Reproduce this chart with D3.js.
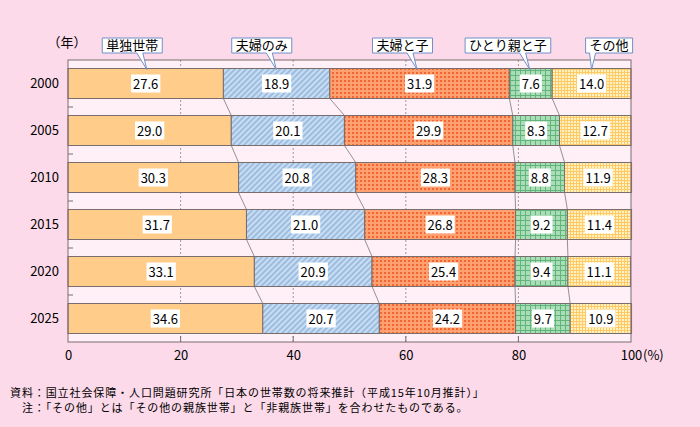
<!DOCTYPE html>
<html><head><meta charset="utf-8">
<script src="https://cdn.jsdelivr.net/npm/d3@7"></script>
<style>
html,body{margin:0;padding:0;background:#FCDAEA;}
svg{display:block;font-family:"Noto Sans CJK JP","DejaVu Sans",sans-serif;}
</style></head><body>
<script>
const years = ["2000","2005","2010","2015","2020","2025"];
const seriesNames = ["単独世帯","夫婦のみ","夫婦と子","ひとり親と子","その他"];
const single = [27.6, 29.0, 30.3, 31.7, 33.1, 34.6];
const couple = [18.9, 20.1, 20.8, 21.0, 20.9, 20.7];
const coupleChild = [31.9, 29.9, 28.3, 26.8, 25.4, 24.2];
const singleParent = [7.6, 8.3, 8.8, 9.2, 9.4, 9.7];
const other = [14.0, 12.7, 11.9, 11.4, 11.1, 10.9];
const xTicks = [0, 20, 40, 60, 80, 100];
const calloutX = [14, 37, 62, 82, 93]; // callout tip positions (% along axis)
const notes = [
  "資料：国立社会保障・人口問題研究所「日本の世帯数の将来推計（平成15年10月推計）」",
  "　注：「その他」とは「その他の親族世帯」と「非親族世帯」を合わせたものである。"
];

const W = 700, H = 427;
const m = {left: 68, right: 69, top: 60, bottom: 85};
const FONT = "'Noto Sans CJK JP','DejaVu Sans',sans-serif";
const svg = d3.select("body").append("svg").attr("width", W).attr("height", H);
const defs = svg.append("defs");

// patterns
const p1 = defs.append("pattern").attr("id","pBlue").attr("width",4).attr("height",4)
  .attr("patternUnits","userSpaceOnUse").attr("patternTransform","rotate(45)");
p1.append("rect").attr("width",4).attr("height",4).attr("fill","#9DBDE0");
p1.append("rect").attr("width",2).attr("height",4).attr("fill","#C9DDF2");

const p2 = defs.append("pattern").attr("id","pOrange").attr("width",4).attr("height",4)
  .attr("patternUnits","userSpaceOnUse");
p2.append("rect").attr("width",4).attr("height",4).attr("fill","#FFA070");
p2.append("rect").attr("x",0).attr("y",0).attr("width",2).attr("height",2).attr("fill","#F26634");

const p3 = defs.append("pattern").attr("id","pGreen").attr("width",5).attr("height",5)
  .attr("patternUnits","userSpaceOnUse");
p3.append("rect").attr("width",5).attr("height",5).attr("fill","#A8DDB6");
p3.append("rect").attr("width",5).attr("height",1).attr("fill","#62B47C");
p3.append("rect").attr("width",1).attr("height",5).attr("fill","#62B47C");

const p4 = defs.append("pattern").attr("id","pYellow").attr("width",3).attr("height",3)
  .attr("patternUnits","userSpaceOnUse");
p4.append("rect").attr("width",3).attr("height",3).attr("fill","#FFF2C0");
p4.append("rect").attr("width",3).attr("height",1).attr("fill","#FFC968");
p4.append("rect").attr("width",1).attr("height",3).attr("fill","#FFC968");

const fills = ["#FFCC8A","url(#pBlue)","url(#pOrange)","url(#pGreen)","url(#pYellow)"];

const x = d3.scaleLinear().domain([0,100]).range([m.left, W - m.right]);
const y = d3.scaleBand().domain(years).range([m.top, H - m.bottom]).paddingInner(17/47).paddingOuter(8.5/47);

// plot background
svg.append("rect").attr("x", x(0)).attr("y", m.top).attr("width", x(100)-x(0)).attr("height", H-m.bottom-m.top)
  .attr("fill","#FEF0F6");

// gridlines
svg.append("g").selectAll("line").data(xTicks.filter(d=>d>0 && d<100)).join("line")
  .attr("x1", d=>x(d)).attr("x2", d=>x(d)).attr("y1", m.top).attr("y2", H-m.bottom)
  .attr("stroke","#8a8080").attr("stroke-width",0.8).attr("stroke-dasharray","2,2");

// stack data
const table = years.map((yr,i)=>({year:yr, v:[single[i],couple[i],coupleChild[i],singleParent[i],other[i]]}));
table.forEach(r=>{ let c=0; r.cum = r.v.map(v=>{const s=c; c+=v; return [s,c];}); });

// connectors
const conn = svg.append("g");
for (let i=0;i<table.length-1;i++){
  for (let k=0;k<4;k++){
    conn.append("line")
      .attr("x1", x(table[i].cum[k][1])).attr("y1", y(table[i].year)+y.bandwidth())
      .attr("x2", x(table[i+1].cum[k][1])).attr("y2", y(table[i+1].year))
      .attr("stroke","#777").attr("stroke-width",0.8);
  }
}

// bars
const rows = svg.append("g").selectAll("g").data(table).join("g");
rows.selectAll("rect").data(r=>r.cum.map((c,k)=>({c,k,year:r.year,v:r.v[k]}))).join("rect")
  .attr("x", d=>x(d.c[0])).attr("width", d=>x(d.c[1])-x(d.c[0]))
  .attr("y", d=>y(d.year)).attr("height", y.bandwidth())
  .attr("fill", d=>fills[d.k]).attr("stroke","#7a6d6d").attr("stroke-width",1);

// value labels
rows.each(function(r){
  const g = d3.select(this);
  r.cum.forEach((c,k)=>{
    const cx = (x(c[0])+x(c[1]))/2, cy = y(r.year)+y.bandwidth()/2;
    const t = g.append("text").attr("x",cx).attr("y",cy+5).attr("text-anchor","middle")
      .attr("font-size",13).attr("fill","#000").text(r.v[k].toFixed(1));
    const bb = t.node().getBBox();
    g.insert("rect", () => t.node()).attr("x", bb.x-2).attr("y", cy-9).attr("width", bb.width+4).attr("height", 18).attr("fill","#fff");
  });
});

// frame
svg.append("rect").attr("x", x(0)).attr("y", m.top).attr("width", x(100)-x(0)).attr("height", H-m.bottom-m.top)
  .attr("fill","none").attr("stroke","#7a6d6d").attr("stroke-width",1);

// y axis
const yAxis = d3.axisLeft(y).tickSize(0).tickPadding(9);
const ya = svg.append("g").attr("transform",`translate(${x(0)},0)`).call(yAxis);
ya.attr("font-family", FONT);
ya.select(".domain").remove();
ya.selectAll("text").attr("font-size",13).attr("font-weight",400).attr("fill","#000");
// inner ticks at band boundaries
const bounds = years.slice(1).map(yr => y(yr) - y.step()*y.paddingInner()/2);
svg.append("g").selectAll("line").data(bounds).join("line")
  .attr("x1", x(0)).attr("x2", x(0)+5).attr("y1", d=>d).attr("y2", d=>d).attr("stroke","#7a6d6d");

// x axis ticks (inner)
svg.append("g").selectAll("line").data(xTicks.filter(d=>d>0&&d<100)).join("line")
  .attr("x1", d=>x(d)).attr("x2", d=>x(d)).attr("y1", H-m.bottom).attr("y2", H-m.bottom-6).attr("stroke","#7a6d6d");
const xa = svg.append("g").attr("transform",`translate(0,${H-m.bottom})`)
  .call(d3.axisBottom(x).tickValues(xTicks).tickSize(0).tickPadding(9).tickFormat(d=>d));
xa.attr("font-family", FONT);
xa.select(".domain").remove();
xa.selectAll("text").attr("font-size",13).attr("font-weight",400).attr("fill","#000");
svg.append("text").attr("x", x(100)+12).attr("y", H-m.bottom+18).attr("font-size",13).text("(%)");

svg.append("text").attr("x", 67).attr("y", 47).attr("text-anchor","middle").attr("font-size",13).text("（年）");

// callouts
const boxY0 = 38, boxY1 = 53;
seriesNames.forEach((name,k)=>{
  const tipX = x(calloutX[k]);
  const tipY = y(years[0]) + 1;
  const g = svg.append("g");
  const t = g.append("text").attr("font-size",13).attr("y", boxY1-3).text(name);
  const w = t.node().getBBox().width;
  let bx = tipX - w*0.78 - 4;
  if (k===4) bx = tipX - 6;
  const bw = w + 8;
  t.attr("x", bx+4);
  const baseL = Math.max(bx+bw*0.55, Math.min(bx+bw-14, tipX-10));
  const baseR = baseL + 6;
  let bl = baseL, br = baseR;
  if (k===4) { bl = bx+4; br = bx+10; }
  g.insert("path", () => t.node())
    .attr("d", `M${bx},${boxY0} H${bx+bw} V${boxY1} H${br} L${tipX},${tipY} L${bl},${boxY1} H${bx} Z`)
    .attr("fill","#fff").attr("stroke","#7090C8").attr("stroke-width",1);
});

// notes
svg.selectAll("text.note").data(notes).join("text").attr("class","note")
  .attr("x", 10).attr("y",(d,i)=>397+i*15).attr("font-size",11).attr("letter-spacing",0.9)
  .attr("fill","#000").text(d=>d);
</script>
</body></html>
